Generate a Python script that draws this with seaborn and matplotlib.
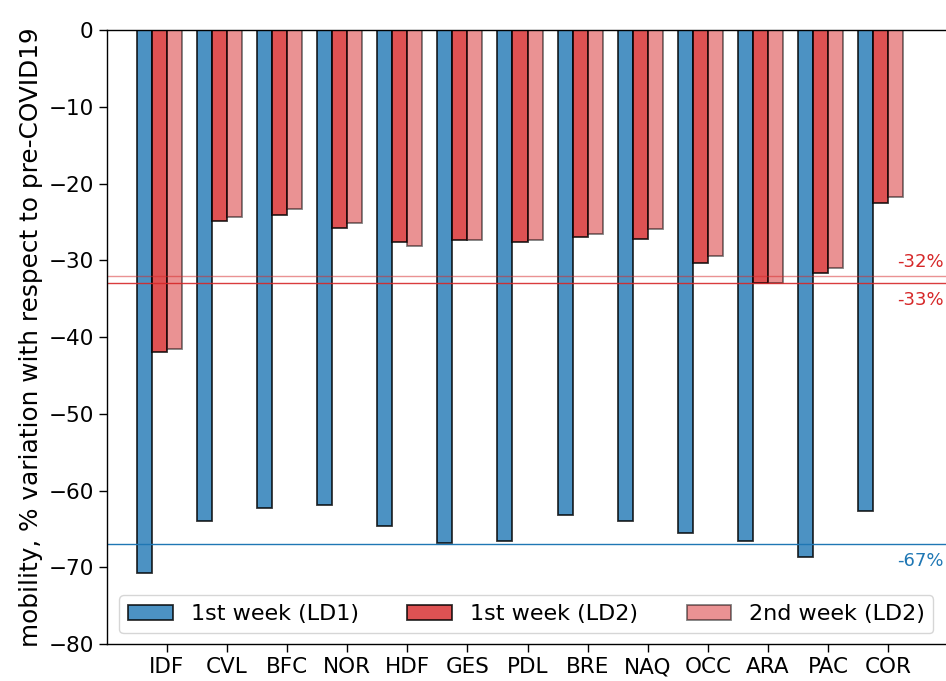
import pandas as pd
import numpy as np
import matplotlib
matplotlib.use('Agg')
import matplotlib.pyplot as plt
import seaborn as sns

# regions and mobility variation (%)
regions = ['IDF', 'CVL', 'BFC', 'NOR', 'HDF', 'GES', 'PDL', 'BRE', 'NAQ', 'OCC', 'ARA', 'PAC', 'COR']
ld1_week1 = [-70.7, -63.9, -62.3, -61.9, -64.6, -66.8, -66.6, -63.2, -63.9, -65.5, -66.6, -68.6, -62.7]
ld2_week1 = [-42.0, -24.9, -24.1, -25.8, -27.6, -27.3, -27.6, -27.0, -27.2, -30.3, -32.9, -31.7, -22.6]
ld2_week2 = [-41.6, -24.4, -23.3, -25.1, -28.2, -27.4, -27.3, -26.6, -25.9, -29.4, -32.9, -31.0, -21.7]
series_names = ['1st week (LD1)', '1st week (LD2)', '2nd week (LD2)']
series_alpha = [0.8, 0.8, 0.5]
series_colors = ['tab:blue', 'tab:red', 'tab:red']

# reference lines
ref_ld1 = -67
ref_ld2_w1 = -33
ref_ld2_w2 = -32

df = pd.DataFrame({
    'region': regions * 3,
    'series': [s for s in series_names for _ in regions],
    'value': ld1_week1 + ld2_week1 + ld2_week2,
})

plt.rcParams['font.family'] = ['DejaVu Sans']

fig, ax = plt.subplots(figsize=(9.46, 6.81), dpi=100)
fig.subplots_adjust(left=0.113, right=1.0, top=0.956, bottom=0.054)

sns.barplot(data=df, x='region', y='value', hue='series', order=regions,
            hue_order=series_names, palette=series_colors, saturation=1,
            width=0.75, edgecolor='black', linewidth=1.3, ax=ax)

for cont, a in zip(ax.containers, series_alpha):
    for p in cont.patches:
        p.set_alpha(a)

ax.axhline(ref_ld1, color='tab:blue', lw=1)
ax.axhline(ref_ld2_w1, color='tab:red', lw=1, alpha=0.9)
ax.axhline(ref_ld2_w2, color='tab:red', lw=1, alpha=0.5)

ax.text(13.05, ref_ld2_w2 + 0.6, f'{ref_ld2_w2}%', color='tab:red', fontsize=13, ha='right', va='bottom')
ax.text(13.05, ref_ld2_w1 - 1.0, f'{ref_ld2_w1}%', color='tab:red', fontsize=13, ha='right', va='top')
ax.text(13.05, ref_ld1 - 1.0, f'{ref_ld1}%', color='tab:blue', fontsize=13, ha='right', va='top')

ax.set_xticks(np.arange(len(regions)) + 0.125)
ax.set_xticklabels(regions)
ax.set_xlim(-0.875, 13.09)
ax.set_ylim(-80, 0)
ax.set_xlabel('')
ax.set_ylabel('mobility, % variation with respect to pre-COVID19', fontsize=17.8)
ax.tick_params(labelsize=15.5, length=6, width=1)
ax.spines['right'].set_visible(False)
for s in ['left', 'bottom', 'top']:
    ax.spines[s].set_linewidth(1.0)

ax.legend(ax.containers, series_names, loc='lower center', ncol=3, fontsize=16,
          bbox_to_anchor=(0.5, 0.0), columnspacing=2.2)

plt.savefig('out.png', dpi=100)
plt.close()
